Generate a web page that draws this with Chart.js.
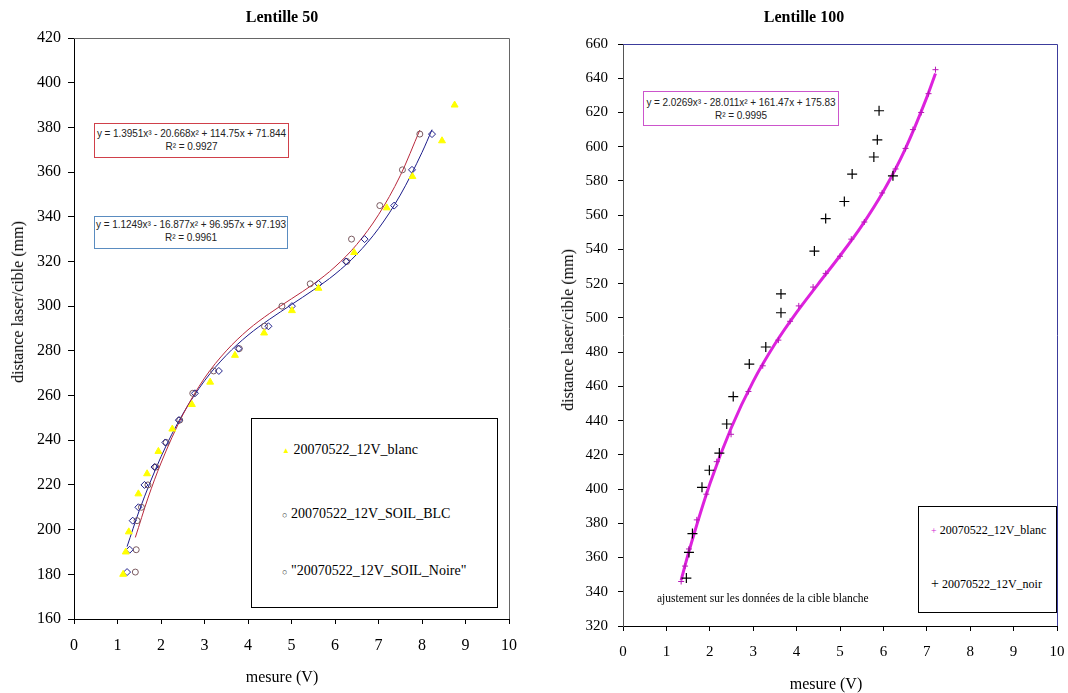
<!DOCTYPE html>
<html>
<head>
<meta charset="utf-8">
<script src="https://cdn.jsdelivr.net/npm/chart.js@4.4.1/dist/chart.umd.min.js"></script>
<style>
body { margin: 0; background: #fff; width: 1068px; height: 693px; position: relative; overflow: hidden; font-family: "Liberation Serif", serif; }
canvas { position: absolute; top: 0; }
.t { position: absolute; white-space: nowrap; color: #000; }
.ttl { font-weight: bold; font-size: 16px; transform: translate(-50%, -50%); }
.xt { font-size: 16px; transform: translate(-50%, -50%); }
.yt { font-size: 16px; transform: translate(-50%, -50%) rotate(-90deg); }
.eq { position: absolute; box-sizing: border-box; background: #fff; font-family: "Liberation Sans", Arial, sans-serif; font-size: 10px; line-height: 13px; text-align: center; color: #222; white-space: nowrap; letter-spacing: -0.05px; }
.leg { position: absolute; box-sizing: border-box; border: 1px solid #000; background: #fff; }
.row { position: absolute; white-space: nowrap; transform: translateY(-50%); }
</style>
</head>
<body>
<canvas id="c50" width="534" height="693" style="left:0"></canvas>
<canvas id="c100" width="534" height="693" style="left:534px"></canvas>

<div class="t ttl" style="left:282px;top:17px">Lentille 50</div>
<div class="t ttl" style="left:804px;top:17px">Lentille 100</div>
<div class="t yt" style="left:18px;top:302px">distance laser/cible (mm)</div>
<div class="t yt" style="left:568px;top:330px">distance laser/cible (mm)</div>
<div class="t xt" style="left:282px;top:677px">mesure (V)</div>
<div class="t xt" style="left:826px;top:684px">mesure (V)</div>

<div class="eq" style="left:94px;top:123px;width:195px;height:35px;border:1px solid #d0404a;padding-top:3px">y = 1.3951x³ - 20.668x² + 114.75x + 71.844<br>R² = 0.9927</div>
<div class="eq" style="left:94px;top:216px;width:194px;height:33px;border:1px solid #5a8cc0;padding-top:1px">y = 1.1249x³ - 16.877x² + 96.957x + 97.193<br>R² = 0.9961</div>
<div class="eq" style="left:643px;top:91px;width:196px;height:35px;border:1px solid #cc55cc;padding-top:4px">y = 2.0269x³ - 28.011x² + 161.47x + 175.83<br>R² = 0.9995</div>

<div class="leg" style="left:251px;top:418px;width:247px;height:190px;font-size:14px">
  <div class="row" style="left:30px;top:31px"><span style="color:#ffff00;font-size:8px;vertical-align:middle">▲</span> 20070522_12V_blanc</div>
  <div class="row" style="left:30px;top:95px"><span style="color:#333;font-size:9px;vertical-align:middle">○</span> 20070522_12V_SOIL_BLC</div>
  <div class="row" style="left:30px;top:152px"><span style="color:#333;font-size:9px;vertical-align:middle">○</span> "20070522_12V_SOIL_Noire"</div>
</div>
<div class="leg" style="left:918px;top:506px;width:139px;height:107px;font-size:12px">
  <div class="row" style="left:12px;top:23px"><span style="color:#d020d0;font-size:10px">+</span> 20070522_12V_blanc</div>
  <div class="row" style="left:12px;top:77px"><span style="font-size:14px">+</span> 20070522_12V_noir</div>
</div>
<div class="t" style="left:657px;top:598px;font-size:11.5px;transform:translateY(-50%)">ajustement sur les données de la cible blanche</div>

<script>
// Lentille 50 - measured points
const blanc50X = [1.13, 1.19, 1.26, 1.48, 1.68, 1.94, 2.26, 2.71, 3.13, 3.70, 4.37, 5.01, 5.62, 6.44, 7.19, 7.78, 8.46, 8.75];
const blanc50Y = [180, 190, 199, 216, 225, 235, 245, 256, 266, 278, 288, 298, 308, 324, 344, 358, 374, 390];
const blc50X = [1.22, 1.28, 1.35, 1.48, 1.62, 1.85, 2.10, 2.41, 2.78, 3.33, 3.78, 4.47, 5.01, 5.62, 6.25, 6.68, 7.36, 7.77, 8.23];
const blc50Y = [181, 191, 204, 210, 220, 228, 239, 249, 261, 271, 281, 291, 300, 310, 320, 330, 345, 361, 377];
const noire50X = [1.41, 1.43, 1.45, 1.55, 1.70, 1.88, 2.12, 2.43, 2.73, 3.21, 3.80, 4.38, 4.78, 5.43, 6.27, 6.38, 7.03, 7.55, 7.95];
const noire50Y = [181, 191, 204, 210, 220, 228, 239, 249, 261, 271, 281, 291, 300, 310, 320, 330, 345, 361, 377];

// Lentille 50 - trend curves
const fitNoireX = [1.41, 1.7, 2, 2.5, 3, 3.5, 4, 4.5, 5, 5.5, 6, 6.5, 7, 7.5, 7.95];
const fitNoireY = [196.5, 214.1, 229.8, 251.3, 267.8, 280.0, 289.4, 296.8, 303.3, 309.8, 317.6, 327.6, 340.9, 358.4, 378.8];
const fitBlcX = [1.22, 1.5, 2, 2.5, 3, 3.5, 4, 4.5, 5, 5.5, 6, 6.5, 7, 7.5, 8, 8.23];
const fitBlcY = [192.4, 208.5, 232.6, 251.7, 266.6, 278.0, 287.0, 294.2, 300.7, 307.2, 314.3, 323.2, 334.7, 349.7, 368.8, 379.0];

// Lentille 100
const blanc100X = [1.34, 1.43, 1.52, 1.70, 1.92, 2.16, 2.49, 2.89, 3.22, 3.58, 3.85, 4.05, 4.38, 4.67, 5.00, 5.26, 5.56, 5.97, 6.28, 6.51, 6.68, 6.87, 7.04, 7.20];
const blanc100Y = [346, 355, 365, 382, 397, 416, 432, 457, 472, 487, 498, 507, 518, 526, 536, 546, 556, 573, 587, 599, 610, 620, 631, 645];
const noir100X = [1.46, 1.52, 1.60, 1.82, 1.99, 2.22, 2.39, 2.54, 2.91, 3.29, 3.64, 3.64, 4.41, 4.67, 5.10, 5.28, 5.78, 5.86, 5.90, 6.22];
const noir100Y = [348, 363, 374, 401, 411, 421, 438, 454, 473, 483, 503, 514, 539, 558, 568, 584, 594, 604, 621, 583];
const fit100X = [1.34, 1.5, 2, 2.5, 3, 3.5, 4, 4.5, 5, 5.5, 6, 6.5, 7, 7.2];
const fit100Y = [346.8, 361.8, 402.9, 436.1, 462.9, 484.7, 503.2, 519.9, 536.3, 553.8, 574.0, 598.5, 628.8, 642.8];

function pts(xs, ys) {
    return xs.map((x, i) => ({ x: x, y: ys[i] }));
}

// top and right border of the plot area
const framePlugin = {
    id: 'frame',
    beforeDatasetsDraw(chart, args, opts) {
        const ctx = chart.ctx, a = chart.chartArea;
        ctx.save();
        ctx.strokeStyle = opts.color;
        ctx.lineWidth = 1;
        ctx.beginPath();
        ctx.moveTo(a.left, Math.round(a.top) + 0.5);
        ctx.lineTo(Math.round(a.right) + 0.5, Math.round(a.top) + 0.5);
        ctx.lineTo(Math.round(a.right) + 0.5, a.bottom);
        ctx.stroke();
        ctx.restore();
    }
};

function makeScales(o) {
    return {
        x: {
            type: 'linear', min: 0, max: 10,
            ticks: { stepSize: 1, padding: o.xPad, color: '#000', font: { family: 'Liberation Serif', size: o.font } },
            grid: { drawOnChartArea: false, tickLength: 5, color: '#000' },
            border: { color: '#000' },
            afterFit: s => { s.height = o.xH; s.paddingLeft = 0; s.paddingRight = 0; }
        },
        y: {
            type: 'linear', min: o.yMin, max: o.yMax,
            ticks: { stepSize: 20, padding: o.yPad, color: '#000', font: { family: 'Liberation Serif', size: o.font } },
            grid: { drawOnChartArea: false, tickLength: o.yTick, color: '#000' },
            border: { color: o.yBorder },
            afterFit: s => { s.width = o.yW; s.paddingTop = 0; s.paddingBottom = 0; }
        }
    };
}

const common = {
    responsive: false,
    animation: false,
    events: [],
    plugins: { legend: { display: false }, tooltip: { enabled: false } }
};

new Chart(document.getElementById('c50'), {
    type: 'scatter',
    data: {
        datasets: [
            { data: pts(fitNoireX, fitNoireY), showLine: true, pointRadius: 0, borderColor: '#b8283c', borderWidth: 1, cubicInterpolationMode: 'monotone', order: 3 },
            { data: pts(fitBlcX, fitBlcY), showLine: true, pointRadius: 0, borderColor: '#1c1c8a', borderWidth: 1, cubicInterpolationMode: 'monotone', order: 3 },
            { data: pts(blanc50X, blanc50Y), pointStyle: 'triangle', pointRadius: 4, backgroundColor: '#ffff00', borderColor: '#ffff00', borderWidth: 1, order: 1 },
            { data: pts(blc50X, blc50Y), pointStyle: 'rectRot', pointRadius: 3.5, backgroundColor: 'rgba(255,255,255,0)', borderColor: '#20208a', borderWidth: 1, order: 1 },
            { data: pts(noire50X, noire50Y), pointStyle: 'circle', pointRadius: 3, backgroundColor: 'rgba(255,255,255,0)', borderColor: '#7a5a60', borderWidth: 1, order: 1 }
        ]
    },
    options: Object.assign({}, common, {
        layout: { padding: { left: 0, top: 38, right: 25, bottom: 0 } },
        scales: makeScales({ yMin: 160, yMax: 420, font: 16, xPad: 12, xH: 74, yPad: 7, yTick: 6, yW: 74, yBorder: '#000' }),
        plugins: Object.assign({}, common.plugins, { frame: { color: '#666' } })
    }),
    plugins: [framePlugin]
});

new Chart(document.getElementById('c100'), {
    type: 'scatter',
    data: {
        datasets: [
            { data: pts(fit100X, fit100Y), showLine: true, pointRadius: 0, borderColor: '#dd22dd', borderWidth: 3, cubicInterpolationMode: 'monotone', order: 3 },
            { data: pts(blanc100X, blanc100Y), pointStyle: 'cross', pointRadius: 3, borderColor: '#b818b8', borderWidth: 1, order: 1 },
            { data: pts(noir100X, noir100Y), pointStyle: 'cross', pointRadius: 5, borderColor: '#000', borderWidth: 1.2, order: 2 }
        ]
    },
    options: Object.assign({}, common, {
        layout: { padding: { left: 0, top: 44, right: 11, bottom: 0 } },
        scales: makeScales({ yMin: 320, yMax: 660, font: 15, xPad: 12, xH: 67, yPad: 10, yTick: 5, yW: 89, yBorder: '#555' }),
        plugins: Object.assign({}, common.plugins, { frame: { color: '#3c3c9c' } })
    }),
    plugins: [framePlugin]
});
</script>
</body>
</html>
